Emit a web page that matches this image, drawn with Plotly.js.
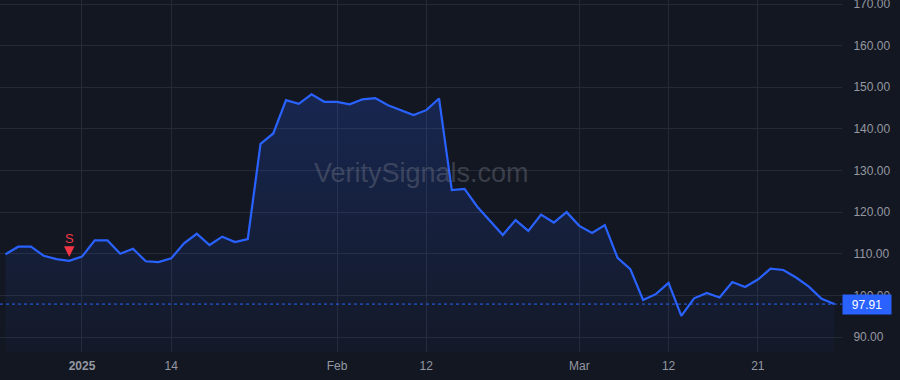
<!DOCTYPE html>
<html>
<head>
<meta charset="utf-8">
<script src="https://cdn.plot.ly/plotly-3.0.1.min.js"></script>
<style>
  html, body { margin: 0; padding: 0; background: #131722; }
  #chart { width: 900px; height: 380px; }
</style>
</head>
<body>
<div id="chart"></div>
<script>
const dates = ['2024-12-23','2024-12-24','2024-12-26','2024-12-27','2024-12-30','2024-12-31',
  '2025-01-02','2025-01-03','2025-01-06','2025-01-07','2025-01-08','2025-01-10','2025-01-13','2025-01-14',
  '2025-01-15','2025-01-16','2025-01-17','2025-01-21','2025-01-22','2025-01-23','2025-01-24','2025-01-27',
  '2025-01-28','2025-01-29','2025-01-30','2025-01-31',
  '2025-02-03','2025-02-04','2025-02-05','2025-02-06','2025-02-07','2025-02-10','2025-02-11','2025-02-12',
  '2025-02-13','2025-02-14','2025-02-18','2025-02-19','2025-02-20','2025-02-21','2025-02-24','2025-02-25',
  '2025-02-26','2025-02-27','2025-02-28',
  '2025-03-03','2025-03-04','2025-03-05','2025-03-06','2025-03-07','2025-03-10','2025-03-11','2025-03-12',
  '2025-03-13','2025-03-14','2025-03-17','2025-03-18','2025-03-19','2025-03-20','2025-03-21','2025-03-24',
  '2025-03-25','2025-03-26','2025-03-27','2025-03-28','2025-03-31'];

const prices = [109.9,111.7,111.7,109.5,108.7,108.3,
  109.3,113.2,113.2,110.0,111.2,108.2,108.0,108.9,
  112.5,114.8,112.1,114.1,112.8,113.5,136.4,138.9,
  146.9,146.0,148.3,146.5,
  146.5,145.9,147.1,147.4,145.7,144.5,143.3,144.5,
  147.3,125.3,125.6,121.3,117.9,114.5,118.1,115.5,
  119.4,117.5,120.0,
  116.7,115.0,116.9,109.0,106.3,98.9,100.3,103.0,
  95.1,99.3,100.6,99.5,103.2,102.0,103.8,106.4,
  106.1,104.3,102.1,99.2,97.91];

const signalDates = ['2024-12-31'];
const signalLabels = ['S'];

const xTickVals = ['2025-01-02','2025-01-14','2025-02-03','2025-02-12','2025-03-03','2025-03-12','2025-03-21'];
const xTickText = ['<b>2025</b>','14','Feb','12','Mar','12','21'];

const yTickVals = [90,100,110,120,130,140,150,160,170];

const watermark = 'VeritySignals.com';

const lastPrice = prices[prices.length - 1];
const yMin = 86.4, yMax = 170.96;
const FONT = 'Liberation Sans, Arial, sans-serif';

const trace = {
  x: dates,
  y: prices,
  type: 'scatter',
  mode: 'lines',
  line: { color: '#2962ff', width: 2.2 },
  fill: 'tozeroy',
  fillgradient: {
    type: 'vertical',
    start: yMin,
    stop: Math.max(...prices),
    colorscale: [[0, 'rgba(41,98,255,0.03)'], [1, 'rgba(41,98,255,0.21)']]
  },
  hoverinfo: 'skip'
};

const annotations = [
  {
    xref: 'paper', yref: 'paper', x: 0.5, y: 0.508,
    text: watermark, showarrow: false,
    font: { family: FONT, size: 27, color: 'rgba(120,125,140,0.40)' }
  },
  {
    xref: 'paper', yref: 'y', x: 1, y: lastPrice,
    xanchor: 'left', yanchor: 'middle',
    text: lastPrice.toFixed(2), showarrow: false,
    bgcolor: '#2962ff', width: 46, height: 17, align: 'center',
    font: { family: FONT, size: 12, color: '#ffffff' }
  }
];

signalDates.forEach((d, i) => {
  const idx = dates.indexOf(d);
  annotations.push({
    x: d, y: prices[idx], xref: 'x', yref: 'y',
    text: signalLabels[i], showarrow: true,
    ax: 0, ay: -22, standoff: 4, borderpad: 0,
    arrowhead: 2, arrowsize: 0.7, arrowwidth: 3, arrowcolor: '#f23645',
    font: { family: FONT, size: 13, color: '#f23645' }
  });
});

const layout = {
  width: 900, height: 380,
  margin: { l: 0, r: 58, t: 0, b: 28 },
  paper_bgcolor: '#131722',
  plot_bgcolor: '#131722',
  showlegend: false,
  hovermode: false,
  font: { family: FONT, size: 12, color: '#9598a1' },
  xaxis: {
    type: 'category',
    range: [-0.43, 65.6],
    tickmode: 'array',
    tickvals: xTickVals,
    ticktext: xTickText,
    showgrid: true,
    gridcolor: '#262a36',
    gridwidth: 1,
    zeroline: false,
    showline: false,
    ticks: 'outside', ticklen: 3, tickcolor: 'rgba(0,0,0,0)',
    tickfont: { size: 12, color: '#9598a1' },
    fixedrange: true
  },
  yaxis: {
    side: 'right',
    range: [yMin, yMax],
    tickmode: 'array',
    tickvals: yTickVals,
    tickformat: '.2f',
    ticklabeloverflow: 'allow',
    showgrid: true,
    gridcolor: '#262a36',
    gridwidth: 1,
    zeroline: false,
    showline: false,
    ticks: 'outside', ticklen: 8, tickcolor: 'rgba(0,0,0,0)',
    tickfont: { size: 12, color: '#9598a1' },
    fixedrange: true
  },
  shapes: [
    {
      type: 'line', xref: 'paper', yref: 'y',
      x0: 0, x1: 1, y0: lastPrice, y1: lastPrice,
      line: { color: '#2962ff', width: 1, dash: '3px,3px' }
    }
  ],
  annotations: annotations
};

Plotly.newPlot('chart', [trace], layout, { displayModeBar: false, staticPlot: true });
</script>
</body>
</html>
